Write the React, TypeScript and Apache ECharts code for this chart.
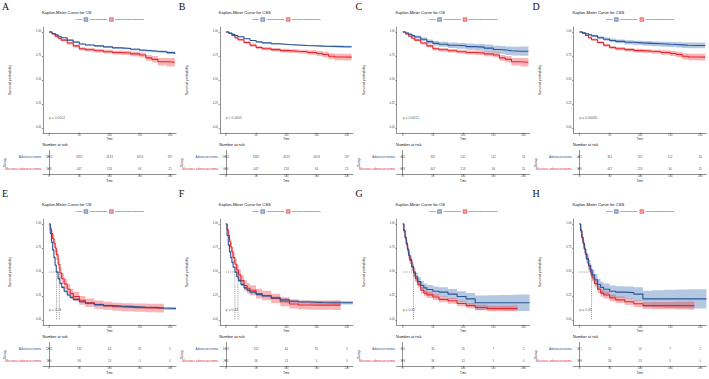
import React, { useEffect, useRef } from "react";
import * as echarts from "echarts";

// ---- sampling times (months) for the survival curves ----
const topTimes = [0, 5, 10, 15, 20, 30, 40, 50, 60, 75, 90, 105, 120, 135, 150, 160, 170, 180, 195, 208];
const bottomTimes = [0, 2, 4, 6, 8, 10, 12, 15, 18, 21, 25, 30, 35, 40, 50, 60, 75, 90, 105, 120, 140, 160, 180, 190, 210];

// ---- survival estimates and 95% CI half-widths ----
// Panel A: OS, adenocarcinoma (large cohort)
const adenoOsA = [1, 0.985, 0.97, 0.955, 0.94, 0.915, 0.895, 0.875, 0.865, 0.855, 0.845, 0.835, 0.828, 0.82, 0.81, 0.805, 0.8, 0.795, 0.785, 0.77];
const adenoOsACi = [0, 0.002, 0.003, 0.004, 0.004, 0.005, 0.005, 0.006, 0.006, 0.007, 0.007, 0.008, 0.008, 0.009, 0.01, 0.01, 0.011, 0.012, 0.013, 0.015];
// Panel B: CSS, adenocarcinoma (large cohort)
const adenoCssB = [1, 0.99, 0.975, 0.962, 0.95, 0.93, 0.912, 0.897, 0.887, 0.877, 0.87, 0.865, 0.86, 0.856, 0.853, 0.851, 0.85, 0.848, 0.847, 0.846];
const adenoCssBCi = [0, 0.002, 0.003, 0.003, 0.004, 0.004, 0.005, 0.005, 0.005, 0.006, 0.006, 0.006, 0.007, 0.007, 0.007, 0.008, 0.008, 0.009, 0.01, 0.011];
// Panel C: OS, adenocarcinoma (matched cohort)
const adenoOsC = [1, 0.99, 0.977, 0.962, 0.948, 0.925, 0.9, 0.882, 0.872, 0.862, 0.856, 0.848, 0.842, 0.832, 0.818, 0.812, 0.805, 0.8, 0.8, 0.8];
const adenoOsCCi = [0, 0.006, 0.01, 0.013, 0.015, 0.019, 0.022, 0.024, 0.026, 0.028, 0.03, 0.032, 0.034, 0.037, 0.04, 0.042, 0.044, 0.046, 0.048, 0.05];
// Panel D: CSS, adenocarcinoma (matched cohort)
const adenoCssD = [1, 0.992, 0.982, 0.972, 0.96, 0.94, 0.925, 0.912, 0.902, 0.893, 0.887, 0.882, 0.877, 0.872, 0.87, 0.866, 0.862, 0.86, 0.86, 0.86];
const adenoCssDCi = [0, 0.005, 0.008, 0.01, 0.012, 0.015, 0.017, 0.019, 0.02, 0.022, 0.023, 0.024, 0.025, 0.026, 0.027, 0.028, 0.029, 0.03, 0.03, 0.03];
// Mucinous adenocarcinoma, early stage (panels A-D)
const mucOsTop = [1, 0.98, 0.955, 0.935, 0.915, 0.885, 0.855, 0.825, 0.815, 0.805, 0.795, 0.787, 0.782, 0.772, 0.76, 0.73, 0.715, 0.69, 0.685, 0.685];
const mucOsTopCi = [0, 0.006, 0.009, 0.011, 0.012, 0.014, 0.016, 0.017, 0.018, 0.019, 0.02, 0.021, 0.022, 0.024, 0.026, 0.03, 0.034, 0.04, 0.045, 0.05];
const mucCssTop = [1, 0.985, 0.963, 0.94, 0.92, 0.89, 0.862, 0.838, 0.826, 0.816, 0.806, 0.8, 0.795, 0.786, 0.776, 0.765, 0.748, 0.74, 0.738, 0.738];
const mucCssTopCi = [0, 0.005, 0.008, 0.01, 0.011, 0.013, 0.015, 0.016, 0.017, 0.018, 0.019, 0.02, 0.021, 0.023, 0.025, 0.028, 0.031, 0.034, 0.036, 0.038];

// Panel E: OS, advanced stage
const adenoOsE = [1, 0.9, 0.81, 0.73, 0.65, 0.57, 0.5, 0.43, 0.38, 0.34, 0.3, 0.26, 0.235, 0.215, 0.19, 0.175, 0.16, 0.15, 0.145, 0.14, 0.133, 0.13, 0.125, 0.12, 0.12];
const adenoOsECi = [0, 0.008, 0.011, 0.012, 0.013, 0.014, 0.014, 0.014, 0.013, 0.013, 0.013, 0.012, 0.012, 0.012, 0.011, 0.011, 0.011, 0.011, 0.011, 0.012, 0.012, 0.013, 0.014, 0.015, 0.018];
const mucOsE = [1, 0.95, 0.9, 0.85, 0.8, 0.75, 0.68, 0.58, 0.49, 0.43, 0.375, 0.32, 0.275, 0.245, 0.205, 0.18, 0.16, 0.148, 0.138, 0.132, 0.128, 0.125, 0.123, 0.12, null];
const mucOsECi = [0, 0.025, 0.035, 0.042, 0.046, 0.05, 0.054, 0.056, 0.057, 0.056, 0.054, 0.052, 0.05, 0.048, 0.046, 0.044, 0.043, 0.042, 0.042, 0.042, 0.043, 0.044, 0.045, 0.046, null];
// Panel F: CSS, advanced stage
const adenoCssF = [1, 0.88, 0.78, 0.71, 0.65, 0.6, 0.55, 0.5, 0.45, 0.41, 0.37, 0.335, 0.31, 0.29, 0.265, 0.25, 0.23, 0.21, 0.195, 0.187, 0.182, 0.18, 0.18, 0.18, 0.18];
const adenoCssFCi = [0, 0.008, 0.011, 0.012, 0.013, 0.014, 0.014, 0.014, 0.014, 0.014, 0.014, 0.014, 0.014, 0.014, 0.014, 0.014, 0.015, 0.015, 0.015, 0.016, 0.016, 0.017, 0.018, 0.019, 0.02];
const mucCssF = [1, 0.94, 0.88, 0.82, 0.76, 0.71, 0.65, 0.58, 0.52, 0.47, 0.41, 0.36, 0.33, 0.31, 0.275, 0.255, 0.225, 0.19, 0.167, 0.157, 0.155, 0.155, 0.155, 0.155, null];
const mucCssFCi = [0, 0.025, 0.035, 0.042, 0.046, 0.05, 0.053, 0.055, 0.056, 0.056, 0.055, 0.054, 0.053, 0.052, 0.05, 0.049, 0.048, 0.047, 0.047, 0.047, 0.048, 0.049, 0.05, 0.05, null];
// Panel G: OS, advanced stage (matched cohort)
const adenoOsG = [1, 0.93, 0.86, 0.8, 0.74, 0.68, 0.63, 0.56, 0.5, 0.45, 0.4, 0.36, 0.335, 0.318, 0.3, 0.29, 0.27, 0.245, 0.22, 0.18, 0.18, 0.18, 0.18, 0.18, 0.18];
const adenoOsGCi = [0, 0.02, 0.03, 0.035, 0.04, 0.042, 0.044, 0.045, 0.046, 0.046, 0.046, 0.046, 0.046, 0.047, 0.048, 0.05, 0.052, 0.055, 0.06, 0.075, 0.078, 0.08, 0.082, 0.085, 0.085];
const mucOsG = [1, 0.93, 0.86, 0.79, 0.73, 0.67, 0.62, 0.55, 0.49, 0.43, 0.37, 0.31, 0.28, 0.262, 0.24, 0.215, 0.2, 0.172, 0.15, 0.13, 0.12, 0.12, 0.12, 0.12, null];
const mucOsGCi = [0, 0.018, 0.025, 0.03, 0.033, 0.035, 0.036, 0.037, 0.037, 0.036, 0.035, 0.034, 0.033, 0.032, 0.031, 0.03, 0.03, 0.029, 0.028, 0.028, 0.028, 0.028, 0.03, 0.032, null];
// Panel H: CSS, advanced stage (matched cohort)
const adenoCssH = [1, 0.93, 0.86, 0.8, 0.74, 0.69, 0.64, 0.57, 0.52, 0.47, 0.42, 0.37, 0.34, 0.32, 0.3, 0.29, 0.285, 0.27, 0.22, 0.22, 0.22, 0.22, 0.22, 0.22, 0.22];
const adenoCssHCi = [0, 0.025, 0.035, 0.042, 0.047, 0.05, 0.053, 0.055, 0.056, 0.057, 0.058, 0.058, 0.058, 0.059, 0.06, 0.062, 0.065, 0.07, 0.085, 0.09, 0.095, 0.098, 0.1, 0.1, 0.1];
const mucCssH = [1, 0.93, 0.86, 0.8, 0.74, 0.68, 0.63, 0.56, 0.5, 0.44, 0.38, 0.32, 0.28, 0.26, 0.23, 0.21, 0.19, 0.17, 0.15, 0.15, 0.15, 0.15, 0.15, 0.15, null];
const mucCssHCi = [0, 0.022, 0.03, 0.034, 0.037, 0.039, 0.04, 0.04, 0.04, 0.04, 0.039, 0.038, 0.037, 0.036, 0.035, 0.034, 0.034, 0.035, 0.036, 0.037, 0.038, 0.04, 0.042, 0.044, null];

// ---- number at risk ----
const riskTimes = [0, 50, 100, 150, 200];
const riskAdenoAB = [5801, 3362, 2633, 1659, 187];
const riskMucAB = [626, 447, 218, 94, 25];
const riskAdenoCD = [442, 361, 241, 112, 16];
const riskMucCD = [626, 447, 218, 94, 25];
const riskAdenoEF = [1265, 192, 64, 35, 5];
const riskMucEF = [280, 36, 13, 5, 0];
const riskAdenoGH = [151, 30, 16, 7, 2];
const riskMucGH = [199, 36, 13, 5, 0];

const groups = ["Adenocarcinoma", "Mucinous adenocarcinoma"];
const xTicks = [0, 50, 100, 150, 200];
const yTicks = [0, 0.25, 0.5, 0.75, 1];

type Panel = {
  letter: string;
  endpoint: string;
  pText: string;
  times: number[];
  adeno: (number | null)[];
  adenoCi: (number | null)[];
  muc: (number | null)[];
  mucCi: (number | null)[];
  riskAdeno: number[];
  riskMuc: number[];
  medians: number[];
};

const panels: Panel[] = [
  { letter: "A", endpoint: "OS", pText: "p = 0.0012", times: topTimes, adeno: adenoOsA, adenoCi: adenoOsACi, muc: mucOsTop, mucCi: mucOsTopCi, riskAdeno: riskAdenoAB, riskMuc: riskMucAB, medians: [] },
  { letter: "B", endpoint: "CSS", pText: "p < 0.0001", times: topTimes, adeno: adenoCssB, adenoCi: adenoCssBCi, muc: mucCssTop, mucCi: mucCssTopCi, riskAdeno: riskAdenoAB, riskMuc: riskMucAB, medians: [] },
  { letter: "C", endpoint: "OS", pText: "p = 0.0015", times: topTimes, adeno: adenoOsC, adenoCi: adenoOsCCi, muc: mucOsTop, mucCi: mucOsTopCi, riskAdeno: riskAdenoCD, riskMuc: riskMucCD, medians: [] },
  { letter: "D", endpoint: "CSS", pText: "p = 0.00065", times: topTimes, adeno: adenoCssD, adenoCi: adenoCssDCi, muc: mucCssTop, mucCi: mucCssTopCi, riskAdeno: riskAdenoCD, riskMuc: riskMucCD, medians: [] },
  { letter: "E", endpoint: "OS", pText: "p = 0.24", times: bottomTimes, adeno: adenoOsE, adenoCi: adenoOsECi, muc: mucOsE, mucCi: mucOsECi, riskAdeno: riskAdenoEF, riskMuc: riskMucEF, medians: [12.5, 17] },
  { letter: "F", endpoint: "CSS", pText: "p = 0.42", times: bottomTimes, adeno: adenoCssF, adenoCi: adenoCssFCi, muc: mucCssF, mucCi: mucCssFCi, riskAdeno: riskAdenoEF, riskMuc: riskMucEF, medians: [15, 20] },
  { letter: "G", endpoint: "OS", pText: "p = 0.32", times: bottomTimes, adeno: adenoOsG, adenoCi: adenoOsGCi, muc: mucOsG, mucCi: mucOsGCi, riskAdeno: riskAdenoGH, riskMuc: riskMucGH, medians: [18] },
  { letter: "H", endpoint: "CSS", pText: "p = 0.45", times: bottomTimes, adeno: adenoCssH, adenoCi: adenoCssHCi, muc: mucCssH, mucCi: mucCssHCi, riskAdeno: riskAdenoGH, riskMuc: riskMucGH, medians: [20] },
];

// ---- styling ----
const FONT = "Liberation Sans";
const BLUE = "#2A5595";
const RED = "#E3262B";
const BLUE_BAND = "rgba(60,110,180,0.38)";
const RED_BAND = "rgba(235,60,65,0.38)";
const BLUE_KEY = "#A9BEDC";
const RED_KEY = "#F3A3A6";
const COL_W = 176.8;
const ROW_H = 192;

function buildOption() {
  const grid: any[] = [];
  const xAxis: any[] = [];
  const yAxis: any[] = [];
  const series: any[] = [];
  const graphic: any[] = [];
  const axisLineStyle = { color: "#222", width: 0.5 };

  const makeX = (gi: number) => ({
    type: "value",
    gridIndex: gi,
    min: -10,
    max: 210,
    axisLine: { show: true, onZero: false, lineStyle: axisLineStyle },
    axisTick: { show: true, length: 1.2, lineStyle: axisLineStyle, customValues: xTicks },
    axisLabel: { fontSize: 2.7, color: "#444", margin: 0.8, fontFamily: FONT, customValues: xTicks },
    splitLine: { show: false },
    name: "Time",
    nameLocation: "middle",
    nameGap: 3.6,
    nameTextStyle: { fontSize: 2.8, color: "#222", fontFamily: FONT },
  });

  const text = (x: number, y: number, str: string, size: number, opts: any = {}) => ({
    type: "text",
    x,
    y,
    rotation: opts.rotation || 0,
    silent: true,
    style: {
      text: str,
      fontSize: size,
      fontFamily: opts.family || FONT,
      fill: opts.fill || "#111",
      align: opts.align || "left",
      verticalAlign: opts.valign || "middle",
    },
  });

  const bandSeries = (gi: number, times: number[], s: (number | null)[], w: (number | null)[], color: string) => ({
    type: "custom",
    coordinateSystem: "cartesian2d",
    xAxisIndex: gi,
    yAxisIndex: gi,
    silent: true,
    data: [[0, 1]],
    renderItem: (_params: any, api: any) => {
      const upper: number[][] = [];
      const lower: number[][] = [];
      const n = s.filter((v) => v != null).length;
      for (let k = 0; k < n; k++) {
        const hi = (s[k] as number) + (w[k] as number);
        const lo = (s[k] as number) - (w[k] as number);
        upper.push(api.coord([times[k], hi]));
        lower.push(api.coord([times[k], lo]));
        if (k < n - 1) {
          upper.push(api.coord([times[k + 1], hi]));
          lower.push(api.coord([times[k + 1], lo]));
        }
      }
      return {
        type: "polygon",
        shape: { points: upper.concat(lower.reverse()) },
        style: { fill: color },
      };
    },
  });

  const curveSeries = (gi: number, name: string, times: number[], s: (number | null)[], color: string) => ({
    type: "line",
    name,
    xAxisIndex: gi,
    yAxisIndex: gi,
    step: "end",
    symbol: "none",
    silent: true,
    data: times.map((t, k) => [t, s[k]]).filter((p) => p[1] != null),
    lineStyle: { color, width: 1.1 },
  });

  const dashed = (gi: number, pts: number[][]) => ({
    type: "line",
    xAxisIndex: gi,
    yAxisIndex: gi,
    symbol: "none",
    silent: true,
    data: pts,
    lineStyle: { color: "#444", width: 0.5, type: [1.2, 0.9] },
  });

  panels.forEach((p, i) => {
    const c = i % 4;
    const r = Math.floor(i / 4);
    const ox = c * COL_W;
    const oy = r * ROW_H;
    const km = 2 * i;
    const rk = 2 * i + 1;

    grid.push({ left: ox + 43, top: oy + 27.2, width: 133, height: 105.6, outerBoundsMode: "none" });
    grid.push({ left: ox + 43, top: oy + 150.5, width: 133, height: 24, outerBoundsMode: "none" });

    xAxis.push(makeX(km));
    xAxis.push(makeX(rk));

    yAxis.push({
      type: "value",
      gridIndex: km,
      min: -0.05,
      max: 1.05,
      axisLine: { show: true, onZero: false, lineStyle: axisLineStyle },
      axisTick: { show: true, length: 1.2, lineStyle: axisLineStyle, customValues: yTicks },
      axisLabel: {
        fontSize: 2.7,
        color: "#444",
        margin: 1.8,
        fontFamily: FONT,
        customValues: yTicks,
        formatter: (v: number) => v.toFixed(2),
      },
      splitLine: { show: false },
      name: "Survival probability",
      nameLocation: "middle",
      nameGap: 31,
      nameTextStyle: { fontSize: 3.6, color: "#222", fontFamily: FONT },
    });
    yAxis.push({
      type: "category",
      gridIndex: rk,
      data: groups,
      inverse: true,
      axisLine: { show: true, lineStyle: axisLineStyle },
      axisTick: { show: true, length: 1.2, alignWithLabel: true, lineStyle: axisLineStyle },
      axisLabel: {
        fontSize: 3,
        margin: 1.8,
        fontFamily: FONT,
        color: (_v: string, idx: number) => (idx === 0 ? BLUE : RED),
      },
    });

    // confidence bands, then curves
    series.push(bandSeries(km, p.times, p.adeno, p.adenoCi, BLUE_BAND));
    series.push(bandSeries(km, p.times, p.muc, p.mucCi, RED_BAND));
    series.push(curveSeries(km, groups[1], p.times, p.muc, RED));
    series.push(curveSeries(km, groups[0], p.times, p.adeno, BLUE));

    // median survival guides
    if (p.medians.length) {
      const mMax = Math.max(...p.medians);
      series.push(dashed(km, [[0, 0.5], [mMax, 0.5]]));
      p.medians.forEach((m) => series.push(dashed(km, [[m, 0.5], [m, 0]])));
    }

    // log-rank p value
    series.push({
      type: "scatter",
      xAxisIndex: km,
      yAxisIndex: km,
      symbolSize: 0,
      silent: true,
      data: [[0, 0.1]],
      label: {
        show: true,
        position: "right",
        distance: 0,
        formatter: () => p.pText,
        fontSize: 3.4,
        color: "#222",
        fontFamily: FONT,
      },
    });

    // number-at-risk table
    const riskData: any[] = [];
    riskTimes.forEach((t, k) => {
      riskData.push([t, groups[0], p.riskAdeno[k]]);
      riskData.push([t, groups[1], p.riskMuc[k]]);
    });
    series.push({
      type: "scatter",
      xAxisIndex: rk,
      yAxisIndex: rk,
      symbolSize: 0,
      silent: true,
      data: riskData,
      label: {
        show: true,
        position: "inside",
        formatter: (d: any) => String(d.value[2]),
        fontSize: 3,
        color: "#222",
        fontFamily: FONT,
      },
    });

    // panel letter, title, legend, table heading
    graphic.push(text(ox + 2, r === 0 ? 1.2 : oy - 3.5, p.letter, 10, { family: "Liberation Serif", valign: "top" }));
    graphic.push(text(ox + 42, oy + 12.7, `Kaplan-Meier Curve for ${p.endpoint}`, 4.1));
    graphic.push(text(ox + 75.5, oy + 19.5, "Group", 2.4));
    graphic.push({
      type: "rect",
      silent: true,
      shape: { x: ox + 84, y: oy + 17.7, width: 3.8, height: 3.6 },
      style: { fill: BLUE_KEY, stroke: BLUE, lineWidth: 0.5 },
    });
    graphic.push(text(ox + 89, oy + 19.5, groups[0], 2.4));
    graphic.push({
      type: "rect",
      silent: true,
      shape: { x: ox + 109.5, y: oy + 17.7, width: 3.8, height: 3.6 },
      style: { fill: RED_KEY, stroke: RED, lineWidth: 0.5 },
    });
    graphic.push(text(ox + 115, oy + 19.5, groups[1], 2.4));
    graphic.push(text(ox + 42.5, oy + 144, "Number at risk", 3.9));
    graphic.push(text(ox + 5, oy + 162.5, "Group", 3.3, { rotation: Math.PI / 2, align: "center" }));
  });

  return {
    animation: false,
    backgroundColor: "#ffffff",
    textStyle: { fontFamily: FONT },
    grid,
    xAxis,
    yAxis,
    series,
    graphic,
  };
}

export default function App() {
  const ref = useRef<HTMLDivElement>(null);
  useEffect(() => {
    document.body.style.margin = "0";
    if (!ref.current) return;
    const chart = echarts.init(ref.current, undefined, { renderer: "svg" });
    chart.setOption(buildOption() as any);
    return () => chart.dispose();
  }, []);
  return <div ref={ref} style={{ width: 709, height: 379 }} />;
}
